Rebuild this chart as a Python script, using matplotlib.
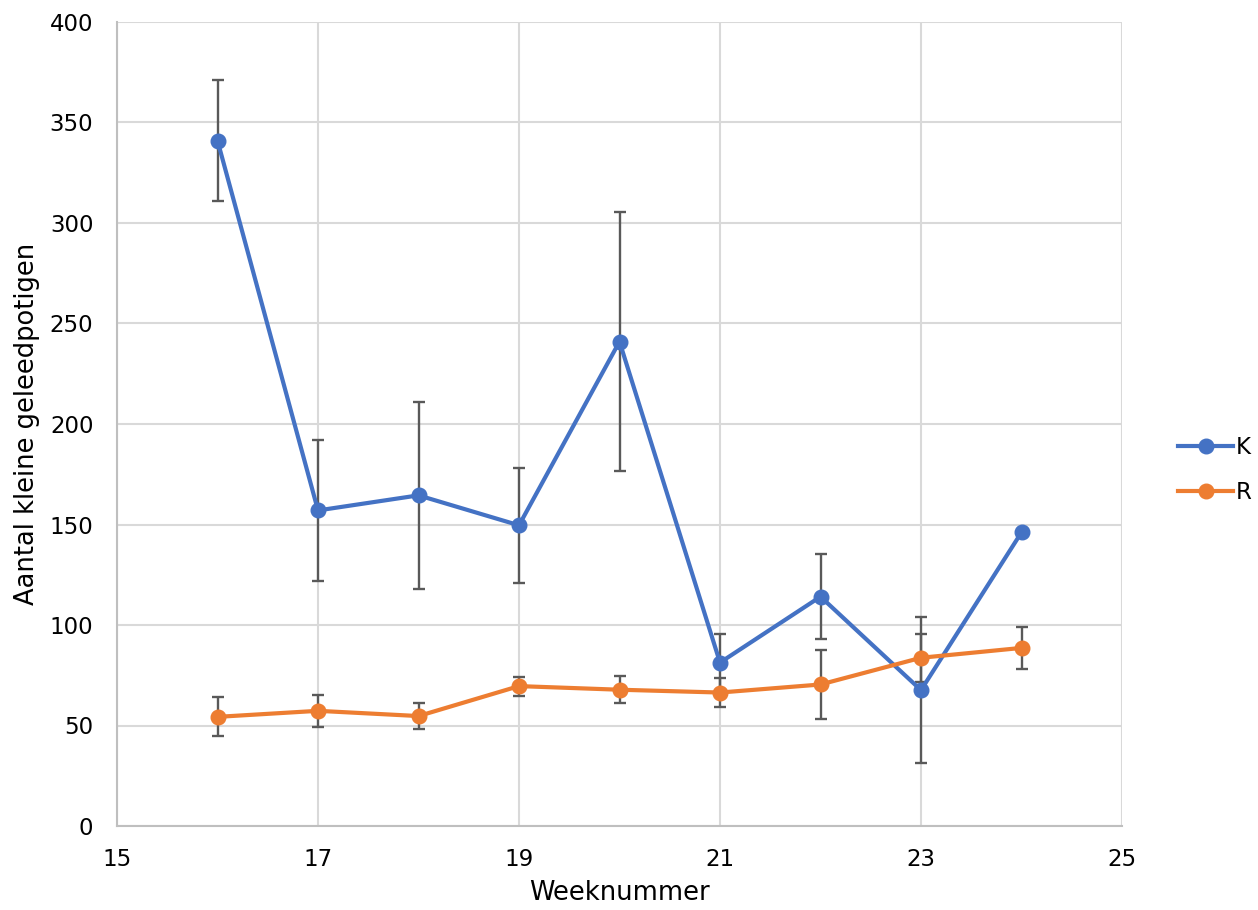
import matplotlib
matplotlib.use("Agg")
import matplotlib.pyplot as plt

weeks = [16, 17, 18, 19, 20, 21, 22, 23, 24]
k_values = [341, 157, 164.5, 149.6, 241, 81.3, 114.1, 67.6, 146.1]
k_errors = [30, 35, 46.5, 28.6, 64.6, 14.3, 21, 36.5, 0]
r_values = [54.3, 57.3, 54.7, 69.6, 67.8, 66.4, 70.4, 83.7, 88.6]
r_errors = [9.7, 8, 6.3, 4.7, 6.8, 7, 17, 12, 10.4]
series_names = ["K", "R"]
x_ticks = [15, 17, 19, 21, 23, 25]
y_ticks = [0, 50, 100, 150, 200, 250, 300, 350, 400]

fs = 16.5
lfs = 18.5
fig = plt.figure(figsize=(12.58, 9.10), dpi=100)
ax = fig.add_axes([117/1258, 1 - 826/910, (1122-117)/1258, (826-22)/910])

blue = "#4472c4"
orange = "#ed7d31"
ecol = "#595959"

ax.errorbar(weeks, k_values, yerr=k_errors, color=blue, lw=3.0, marker="o",
            markersize=10.5, ecolor=ecol, elinewidth=1.7, capsize=4.5, capthick=1.7,
            label=series_names[0], zorder=3)
ax.errorbar(weeks, r_values, yerr=r_errors, color=orange, lw=3.0, marker="o",
            markersize=10.5, ecolor=ecol, elinewidth=1.7, capsize=4.5, capthick=1.7,
            label=series_names[1], zorder=3)

ax.set_xlim(15, 25)
ax.set_ylim(0, 400)
ax.set_xticks(x_ticks)
ax.set_yticks(y_ticks)
ax.grid(True, color="#d9d9d9", lw=1.5, zorder=0)
ax.set_axisbelow(True)
for s in ["top", "right"]:
    ax.spines[s].set_visible(False)
for s in ["left", "bottom"]:
    ax.spines[s].set_color("#bfbfbf")
    ax.spines[s].set_linewidth(1.5)
ax.tick_params(length=0, labelsize=fs, colors="black")
ax.tick_params(axis="y", pad=17)
ax.tick_params(axis="x", pad=16)
ax.set_xlabel("Weeknummer", fontsize=lfs)
ax.set_ylabel("Aantal kleine geleedpotigen", fontsize=lfs)
ax.xaxis.set_label_coords(0.5, -(880 - 826) / 804)
ax.yaxis.set_label_coords(-(117 - 40) / 1005, 0.5)

handles, labels = ax.get_legend_handles_labels()
handles = [h[0] for h in handles]
leg = fig.legend(handles, labels, loc="center left", bbox_to_anchor=(1178/1258, 1 - 470/910),
                 frameon=False, fontsize=fs, handlelength=2.4, handletextpad=0.1,
                 labelspacing=0.95, borderaxespad=0, borderpad=0)

fig.savefig("out.png", dpi=100, facecolor="white")
